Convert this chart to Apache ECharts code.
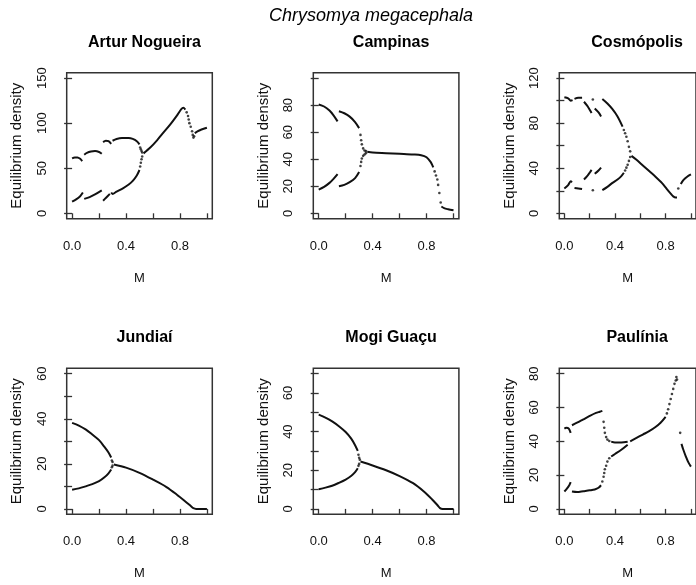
<!DOCTYPE html>
<html>
<head>
<meta charset="utf-8">
<script src="https://cdn.jsdelivr.net/npm/echarts@6/dist/echarts.min.js"></script>
<style>
  html, body { margin: 0; padding: 0; background: #fff; }
  #chart { width: 696px; height: 585px; }
</style>
</head>
<body>
<div id="chart"></div>
<script>
// x axis (M) is shared by every panel
const mTicks = [0, 0.2, 0.4, 0.6, 0.8, 1.0]
const mLabels = [0, 0.4, 0.8]

// Artur Nogueira
const anSegs = [
  [[0, 61], [0.02, 62], [0.04, 62], [0.06, 60.5], [0.075, 58]],
  [[0.09, 65], [0.11, 67], [0.14, 68.5], [0.17, 69], [0.2, 68], [0.22, 66]],
  [[0.23, 79], [0.25, 80.5], [0.27, 80], [0.29, 77]],
  [[0.3, 80.5], [0.33, 82.5], [0.37, 83.5], [0.42, 83.5], [0.45, 82.5], [0.48, 80], [0.5, 76.5]],
  [[0, 13], [0.03, 15.5], [0.06, 19], [0.08, 23]],
  [[0.09, 16], [0.13, 18], [0.17, 21], [0.22, 25.5]],
  [[0.23, 14], [0.25, 17], [0.28, 21.5]],
  [[0.29, 23], [0.3, 21.5], [0.33, 24], [0.38, 28], [0.42, 32], [0.45, 36], [0.48, 42], [0.5, 48]],
  [[0.53, 66.5], [0.58, 73], [0.63, 81], [0.68, 90], [0.73, 99], [0.78, 109], [0.81, 115.5], [0.825, 117], [0.84, 115]],
  [[0.91, 89], [0.93, 91], [0.96, 93], [1.0, 95]]
]
const anDots = [
  [0.505, 73], [0.51, 71], [0.515, 69], [0.52, 67.5],
  [0.505, 52], [0.51, 56], [0.515, 60], [0.52, 63],
  [0.85, 112], [0.86, 108], [0.865, 104], [0.87, 100], [0.88, 96], [0.89, 91], [0.895, 87], [0.9, 84], [0.905, 85.5]
]
const anYTicks = [0, 50, 100, 150]
const anYLabels = [0, 50, 100, 150]

// Campinas
const cpSegs = [
  [[0, 80.5], [0.04, 79], [0.08, 76], [0.11, 72.5], [0.14, 68]],
  [[0.15, 75.5], [0.19, 74], [0.23, 71.5], [0.27, 67.5], [0.3, 63]],
  [[0, 17.5], [0.04, 19.5], [0.08, 22.5], [0.11, 25.5], [0.14, 29]],
  [[0.15, 20], [0.19, 21], [0.23, 23], [0.27, 26], [0.3, 30.5]],
  [[0.36, 45.5], [0.4, 45], [0.5, 44.5], [0.6, 44], [0.7, 43.5], [0.76, 43], [0.8, 41.5], [0.83, 38], [0.85, 34]],
  [[0.91, 5], [0.93, 3.8], [0.96, 3], [1.0, 2.2]]
]
const cpDots = [
  [0.31, 58], [0.315, 54], [0.32, 51], [0.33, 48], [0.34, 46.5], [0.35, 46],
  [0.31, 35], [0.315, 38], [0.32, 40.5], [0.33, 42.5], [0.34, 43.5], [0.35, 44.5],
  [0.86, 31], [0.87, 28], [0.88, 25], [0.886, 21], [0.895, 15], [0.905, 8]
]
const cpYTicks = [0, 20, 40, 60, 80, 100]
const cpYLabels = [0, 20, 40, 60, 80]

// Cosmópolis
const cmSegs = [
  [[0, 103], [0.03, 102], [0.05, 100], [0.065, 100.5]],
  [[0.08, 101.5], [0.11, 102.5], [0.14, 102.5]],
  [[0.155, 99], [0.18, 95.5], [0.2, 92], [0.215, 89]],
  [[0.24, 93], [0.27, 89.5], [0.29, 86]],
  [[0.3, 101.5], [0.34, 97.5], [0.38, 92.5], [0.42, 86], [0.46, 77]],
  [[0, 22], [0.03, 25], [0.05, 28.5], [0.06, 27.5]],
  [[0.08, 22.5], [0.11, 22], [0.14, 21.5]],
  [[0.155, 30], [0.18, 33], [0.2, 36], [0.215, 38.5]],
  [[0.24, 35], [0.27, 38], [0.29, 40.5]],
  [[0.3, 20.5], [0.34, 23.5], [0.38, 27], [0.42, 30], [0.45, 33], [0.47, 36]],
  [[0.53, 51], [0.57, 47.5], [0.62, 42.5], [0.67, 37.5], [0.72, 32.5], [0.77, 27], [0.81, 21.5], [0.84, 17.5], [0.86, 15], [0.88, 14], [0.89, 14]],
  [[0.92, 26], [0.94, 29.5], [0.97, 32.5], [1.0, 34.5]]
]
const cmDots = [
  [0.225, 101], [0.225, 20.5],
  [0.47, 74], [0.48, 71], [0.49, 68], [0.5, 64], [0.51, 59], [0.52, 55],
  [0.48, 38], [0.49, 40.5], [0.5, 43], [0.51, 46.5], [0.52, 50],
  [0.9, 22]
]
const cmYTicks = [0, 20, 40, 60, 80, 100, 120]
const cmYLabels = [0, 40, 80, 120]

// Jundiaí
const jdSegs = [
  [[0, 38.2], [0.05, 37], [0.1, 35.3], [0.15, 33], [0.2, 30.5], [0.24, 27.5], [0.27, 25], [0.29, 22.8]],
  [[0, 8.5], [0.05, 9.1], [0.1, 10], [0.15, 11], [0.2, 12.3], [0.24, 14], [0.27, 15.8], [0.29, 17.5]],
  [[0.31, 19.7], [0.4, 18.3], [0.5, 16], [0.6, 13], [0.7, 9.7], [0.78, 6.2], [0.84, 3.3], [0.88, 1.3], [0.9, 0.3], [0.92, 0], [1.0, 0]]
]
const jdDots = [[0.295, 21.5], [0.3, 20.8], [0.295, 18.5], [0.3, 19.2]]
const jdYTicks = [0, 10, 20, 30, 40, 50, 60]
const jdYLabels = [0, 20, 40, 60]

// Mogi Guaçu
const mgSegs = [
  [[0, 48.8], [0.05, 47.3], [0.1, 45.3], [0.15, 42.8], [0.2, 39.8], [0.24, 36.5], [0.27, 33], [0.29, 30]],
  [[0, 10.2], [0.05, 11], [0.1, 12], [0.15, 13.5], [0.2, 15.2], [0.24, 17], [0.27, 19], [0.29, 21]],
  [[0.31, 24.5], [0.4, 22.5], [0.5, 20], [0.6, 17], [0.7, 13.3], [0.78, 9], [0.84, 5], [0.88, 2], [0.9, 0.4], [0.92, 0], [1.0, 0]]
]
const mgDots = [[0.295, 28], [0.3, 26.5], [0.305, 25.5], [0.295, 22.3], [0.3, 23.3]]
const mgYTicks = [0, 10, 20, 30, 40, 50, 60, 70]
const mgYLabels = [0, 20, 40, 60]

// Paulínia
const plSegs = [
  [[0, 47.5], [0.015, 48], [0.035, 47.5], [0.05, 45]],
  [[0.06, 49.5], [0.1, 51], [0.15, 53], [0.2, 55], [0.25, 56.8], [0.28, 57.5], [0.3, 58]],
  [[0, 10.3], [0.02, 12], [0.04, 14.2], [0.05, 15.8]],
  [[0.06, 10.3], [0.1, 10], [0.15, 10.5], [0.2, 11], [0.24, 11.5], [0.27, 12.5], [0.29, 14]],
  [[0.37, 39.8], [0.4, 39.3], [0.45, 39.3], [0.5, 39.7]],
  [[0.37, 31], [0.4, 32.5], [0.45, 35], [0.5, 38]],
  [[0.52, 40], [0.57, 42], [0.62, 44], [0.67, 46], [0.72, 48.5], [0.76, 51], [0.8, 54.5]],
  [[0.925, 38.5], [0.94, 35], [0.96, 31], [0.98, 27.5], [1.0, 25]]
]
const plDots = [
  [0.31, 51.5], [0.315, 48], [0.32, 45], [0.33, 42.5], [0.34, 41], [0.355, 40.2],
  [0.3, 16.2], [0.31, 19], [0.315, 21.2], [0.32, 23.5], [0.33, 25.5], [0.34, 28], [0.355, 30],
  [0.81, 56.5], [0.82, 59], [0.83, 62], [0.84, 65], [0.85, 68], [0.86, 71], [0.87, 74], [0.88, 76], [0.885, 78], [0.89, 76.5],
  [0.915, 45]
]
const plYTicks = [0, 20, 40, 60, 80]
const plYLabels = [0, 20, 40, 60, 80]

const panels = [
  { name: 'Artur Nogueira', segs: anSegs, dots: anDots, yTicks: anYTicks, yLabels: anYLabels, ymin: -6, ymax: 156 },
  { name: 'Campinas', segs: cpSegs, dots: cpDots, yTicks: cpYTicks, yLabels: cpYLabels, ymin: -4, ymax: 104 },
  { name: 'Cosmópolis', segs: cmSegs, dots: cmDots, yTicks: cmYTicks, yLabels: cmYLabels, ymin: -4.8, ymax: 124.8 },
  { name: 'Jundiaí', segs: jdSegs, dots: jdDots, yTicks: jdYTicks, yLabels: jdYLabels, ymin: -2.4, ymax: 62.4 },
  { name: 'Mogi Guaçu', segs: mgSegs, dots: mgDots, yTicks: mgYTicks, yLabels: mgYLabels, ymin: -2.8, ymax: 72.8 },
  { name: 'Paulínia', segs: plSegs, dots: plDots, yTicks: plYTicks, yLabels: plYLabels, ymin: -3.2, ymax: 83.2 }
]

const FONT = '"Liberation Sans", Arial, sans-serif'
const colLeft = [66.7, 313.3, 559.3]
const rowTop = [72.7, 368.3]
const titleTop = [30, 325]
const boxW = 145.6
const boxH = 146

const grids = []
const xAxes = []
const yAxes = []
const series = []
const titles = [{
  text: 'Chrysomya megacephala',
  left: 366,
  top: 2,
  textAlign: 'center',
  textStyle: { fontFamily: FONT, fontSize: 18, fontStyle: 'italic', fontWeight: 'normal', color: '#000' }
}]

panels.forEach((p, i) => {
  const left = colLeft[i % 3]
  const row = Math.floor(i / 3)
  const top = rowTop[row]
  grids.push({
    left: left, top: top, width: boxW, height: boxH,
    show: true, borderColor: '#333', borderWidth: 1.5, backgroundColor: 'transparent',
    containLabel: false
  })
  titles.push({
    text: p.name,
    left: left + boxW / 2,
    top: titleTop[row],
    textAlign: 'center',
    textStyle: { fontFamily: FONT, fontSize: 16, fontWeight: 'bold', color: '#000' }
  })
  xAxes.push({
    type: 'value', gridIndex: i, min: -0.04, max: 1.04,
    name: 'M', nameLocation: 'middle', nameGap: 53,
    nameTextStyle: { fontFamily: FONT, fontSize: 13, color: '#111' },
    axisLine: { show: false },
    splitLine: { show: false },
    axisTick: { show: true, customValues: mTicks, length: 5, lineStyle: { color: '#333', width: 1.3 } },
    axisLabel: {
      customValues: mLabels, margin: 21, fontFamily: FONT, fontSize: 13, color: '#111',
      formatter: v => v.toFixed(1)
    }
  })
  yAxes.push({
    type: 'value', gridIndex: i, min: p.ymin, max: p.ymax,
    name: 'Equilibrium density', nameLocation: 'middle', nameGap: 42,
    nameTextStyle: { fontFamily: FONT, fontSize: 15, color: '#111' },
    axisLine: { show: false },
    splitLine: { show: false },
    axisTick: { show: true, customValues: p.yTicks, length: 8, lineStyle: { color: '#333', width: 1.3 } },
    axisLabel: {
      customValues: p.yLabels, rotate: 90, margin: 18, fontFamily: FONT, fontSize: 13, color: '#111'
    }
  })
  p.segs.forEach(seg => {
    series.push({
      type: 'line', xAxisIndex: i, yAxisIndex: i, data: seg,
      symbol: 'none', smooth: 0.3, silent: true,
      lineStyle: { color: '#111', width: 2 }
    })
  })
  series.push({
    type: 'scatter', xAxisIndex: i, yAxisIndex: i, data: p.dots,
    symbolSize: 2.6, silent: true,
    itemStyle: { color: '#111' }
  })
})

const chart = echarts.init(document.getElementById('chart'))
chart.setOption({
  backgroundColor: '#fff',
  animation: false,
  title: titles,
  grid: grids,
  xAxis: xAxes,
  yAxis: yAxes,
  series: series
})
</script>
</body>
</html>
